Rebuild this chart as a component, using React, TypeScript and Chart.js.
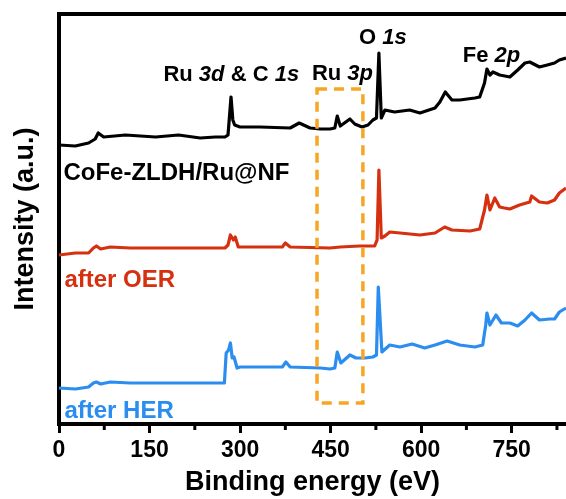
import React, { useEffect, useRef } from "react";
import { Chart, registerables } from "chart.js";
Chart.register(...registerables);

const FONT = "'Liberation Sans', Arial, Helvetica, sans-serif";

// x tick values (binding energy, eV)
const xTicks = [0, 150, 300, 450, 600, 750];
const minorTicks = [75, 225, 375, 525, 675, 825];

// CoFe-ZLDH/Ru@NF (black)
const blackEnergy = [0, 27, 49, 60, 65, 74, 110, 160, 198, 234, 259, 275, 280, 282, 285, 288, 291, 300, 333, 383, 398, 416, 433, 449, 457, 461, 466, 482, 490, 502, 512, 520, 526, 530, 534, 540, 556, 581, 598, 623, 631, 640, 651, 664, 689, 697, 705, 709, 714, 719, 730, 747, 760, 772, 780, 796, 809, 821, 829, 840];
const blackIntensity = [278, 277, 280, 284, 290, 286, 288, 286, 288, 285, 286, 286, 288, 303, 326, 303, 298, 296, 296, 295, 300, 295, 294, 294, 295, 307, 297, 304, 299, 296, 298, 303, 305, 370, 305, 313, 311, 313, 310, 315, 321, 331, 323, 323, 325, 326, 340, 354, 348, 351, 348, 346, 353, 360, 361, 356, 358, 360, 363, 365];

// after OER (red)
const redEnergy = [0, 27, 49, 57, 62, 69, 85, 118, 184, 234, 275, 280, 284, 289, 292, 297, 333, 370, 375, 383, 449, 466, 498, 523, 527, 530, 534, 540, 548, 565, 598, 623, 639, 651, 681, 697, 705, 709, 714, 722, 730, 738, 747, 763, 780, 783, 796, 809, 821, 829, 840];
const redIntensity = [168, 170, 170, 175, 177, 174, 176, 175, 175, 175, 175, 178, 188, 183, 186, 176, 176, 176, 180, 176, 175, 176, 177, 177, 183, 253, 185, 187, 191, 190, 188, 190, 196, 193, 192, 194, 213, 228, 213, 225, 216, 215, 214, 218, 221, 227, 221, 220, 223, 230, 235];

// after HER (blue)
const blueEnergy = [0, 27, 49, 57, 62, 69, 85, 118, 184, 259, 274, 277, 281, 284, 287, 290, 295, 300, 333, 370, 376, 383, 433, 449, 457, 461, 467, 482, 492, 507, 520, 526, 529, 535, 548, 565, 585, 606, 623, 643, 664, 689, 702, 707, 709, 714, 724, 733, 747, 760, 772, 783, 796, 813, 821, 829, 840];
const blueIntensity = [35, 34, 36, 40, 41, 39, 41, 40, 40, 40, 40, 70, 73, 80, 65, 66, 55, 56, 56, 56, 61, 56, 55, 54, 55, 71, 60, 68, 65, 65, 66, 68, 136, 71, 78, 76, 79, 75, 78, 82, 78, 76, 78, 98, 110, 98, 108, 100, 100, 97, 103, 110, 103, 104, 104, 111, 115];

// Ru 3p highlight region (eV range, intensity range)
const boxEnergy = [427.5, 503.5];
const boxIntensity = [20, 334];

const BLACK = "#000000";
const RED = "#D5300F";
const BLUE = "#2A8DEF";
const ORANGE = "#F6A623";

function toPoints(xs: number[], ys: number[]) {
  return xs.map((x, i) => ({ x, y: ys[i] }));
}

export default function App() {
  const ref = useRef<HTMLCanvasElement>(null);

  useEffect(() => {
    const canvas = ref.current!;

    const drawRich = (ctx: CanvasRenderingContext2D, parts: [string, boolean][], x: number, y: number, size: number, color: string) => {
      let cx = x;
      ctx.fillStyle = color;
      ctx.textBaseline = "alphabetic";
      ctx.textAlign = "left";
      for (const [t, it] of parts) {
        ctx.font = `${it ? "italic " : ""}bold ${size}px ${FONT}`;
        ctx.fillText(t, cx, y);
        cx += ctx.measureText(t).width;
      }
    };

    const annot = {
      id: "annot",
      afterDatasetsDraw(chart: any) {
        const ctx: CanvasRenderingContext2D = chart.ctx;
        const xs = chart.scales.x;
        const ys = chart.scales.y;
        const area = chart.chartArea;
        ctx.save();
        // top frame line
        ctx.strokeStyle = BLACK;
        ctx.lineWidth = 4;
        ctx.beginPath();
        ctx.moveTo(area.left - 2, area.top);
        ctx.lineTo(area.right + 2, area.top);
        ctx.stroke();
        // minor ticks
        ctx.lineWidth = 3;
        for (const v of minorTicks) {
          const px = xs.getPixelForValue(v);
          ctx.beginPath();
          ctx.moveTo(px, area.bottom);
          ctx.lineTo(px, area.bottom + 6);
          ctx.stroke();
        }
        // dashed box
        ctx.strokeStyle = ORANGE;
        ctx.lineWidth = 3.5;
        ctx.setLineDash([10, 7]);
        const bx1 = xs.getPixelForValue(boxEnergy[0]);
        const bx2 = xs.getPixelForValue(boxEnergy[1]);
        const by1 = ys.getPixelForValue(boxIntensity[1]);
        const by2 = ys.getPixelForValue(boxIntensity[0]);
        ctx.strokeRect(bx1, by1, bx2 - bx1, by2 - by1);
        ctx.setLineDash([]);
        // labels
        const P = (e: number) => xs.getPixelForValue(e);
        const Q = (v: number) => ys.getPixelForValue(v);
        drawRich(ctx, [["Ru ", false], ["3d", true], [" & C ", false], ["1s", true]], P(173), Q(342), 22, BLACK);
        drawRich(ctx, [["Ru ", false], ["3p", true]], P(419), Q(343), 22, BLACK);
        drawRich(ctx, [["O ", false], ["1s", true]], P(497), Q(379), 22, BLACK);
        drawRich(ctx, [["Fe ", false], ["2p", true]], P(669), Q(361), 22, BLACK);
        drawRich(ctx, [["CoFe-ZLDH/Ru@NF", false]], P(7.4), Q(243), 24, BLACK);
        drawRich(ctx, [["after OER", false]], P(9), Q(136), 24, RED);
        drawRich(ctx, [["after HER", false]], P(9), Q(5), 24, BLUE);
        ctx.restore();
      },
    };

    const ds = (xs: number[], ys: number[], color: string) => ({
      data: toPoints(xs, ys),
      borderColor: color,
      backgroundColor: color,
      borderWidth: 3.2,
      pointRadius: 0,
      tension: 0,
      borderJoinStyle: "round" as const,
      fill: false,
    });

    const chart = new Chart(canvas, {
      type: "line",
      data: {
        datasets: [
          ds(blackEnergy, blackIntensity, BLACK),
          ds(redEnergy, redIntensity, RED),
          ds(blueEnergy, blueIntensity, BLUE),
        ],
      },
      options: {
        responsive: false,
        animation: false,
        devicePixelRatio: 1,
        layout: { padding: { top: 14, left: 0, right: 0, bottom: 0 } },
        plugins: { legend: { display: false }, tooltip: { enabled: false } },
        scales: {
          x: {
            type: "linear",
            min: 0,
            max: 840,
            position: "bottom",
            afterFit: (s: any) => { s.height = 75; },
            afterBuildTicks: (s: any) => { s.ticks = xTicks.map((v) => ({ value: v })); },
            ticks: {
              stepSize: 150,
              includeBounds: false,
              autoSkip: false,
              maxRotation: 0,
              color: BLACK,
              padding: 4,
              font: { family: FONT, size: 23, weight: "bold" },
            },
            grid: { display: true, drawOnChartArea: false, drawTicks: true, tickLength: 9, tickWidth: 3, tickColor: BLACK },
            border: { display: true, color: BLACK, width: 4 },
            title: {
              display: true,
              text: "Binding energy (eV)",
              color: BLACK,
              font: { family: FONT, size: 27, weight: "bold" },
              padding: { top: 0, bottom: 0 },
            },
          },
          y: {
            type: "linear",
            min: -1,
            max: 409,
            afterFit: (s: any) => { s.width = 59; },
            ticks: { display: false },
            grid: { display: false },
            border: { display: true, color: BLACK, width: 4 },
            title: {
              display: true,
              text: "Intensity (a.u.)",
              color: BLACK,
              font: { family: FONT, size: 27, weight: "bold" },
              padding: { top: 9, bottom: 0 },
            },
          },
        },
      },
      plugins: [annot],
    } as any);

    return () => chart.destroy();
  }, []);

  return (
    <div style={{ position: "fixed", left: 0, top: 0, width: 566, height: 499, background: "#fff" }}>
      <canvas ref={ref} width={566} height={499} style={{ display: "block", width: 566, height: 499 }} />
    </div>
  );
}
